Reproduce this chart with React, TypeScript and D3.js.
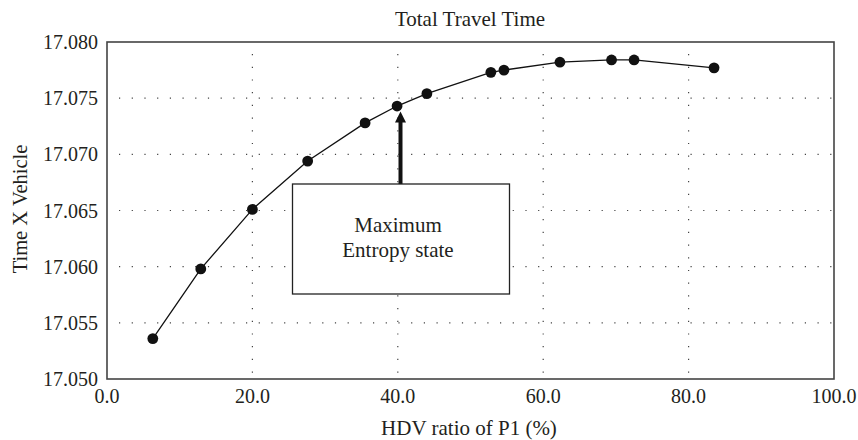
import * as d3 from "d3";
import React, {useEffect, useRef} from "react";

// values
const hdvRatio = [6.3, 12.9, 20.0, 27.6, 35.5, 39.9, 44.0, 52.8, 54.6, 62.3, 69.4, 72.5, 83.5];
const travelTime = [17.0536, 17.0598, 17.0651, 17.0694, 17.0728, 17.0743, 17.0754, 17.0773, 17.0775, 17.0782, 17.0784, 17.0784, 17.0777];
const xTicks = [0, 20, 40, 60, 80, 100];
const yTicks = [17.05, 17.055, 17.06, 17.065, 17.07, 17.075, 17.08];
const maxEntropyIndex = 5;
const boxLines = ["Maximum", "Entropy state"];

const W = 858;
const H = 440;
const FONT = "'Liberation Serif', 'Times New Roman', serif";
const INK = "#231f20";

const App = () => {
    const ref = useRef<SVGSVGElement>(null);

    useEffect(() => {
        const svg = d3.select(ref.current);
        svg.selectAll("*").remove();

        const left = 107, right = 834, top = 42, bottom = 379;

        const x = d3.scaleLinear().domain([0, 100]).range([left, right]);
        const y = d3.scaleLinear().domain([17.05, 17.08]).range([bottom, top]);

        // dotted grid
        const grid = svg.append("g")
            .attr("stroke", "#444")
            .attr("stroke-width", 1.2)
            .attr("stroke-dasharray", "1.2,11.5");
        grid.selectAll("line.h")
            .data(yTicks.slice(1, -1))
            .join("line")
            .attr("class", "h")
            .attr("x1", left + 12).attr("x2", right)
            .attr("y1", d => y(d)).attr("y2", d => y(d));
        grid.selectAll("line.v")
            .data(xTicks.slice(1, -1))
            .join("line")
            .attr("class", "v")
            .attr("x1", d => x(d)).attr("x2", d => x(d))
            .attr("y1", top + 12).attr("y2", bottom);

        // frame
        svg.append("rect")
            .attr("x", left).attr("y", top)
            .attr("width", right - left).attr("height", bottom - top)
            .attr("fill", "none")
            .attr("stroke", "#444")
            .attr("stroke-width", 1.6);

        // tick labels
        svg.append("g")
            .selectAll("text")
            .data(yTicks)
            .join("text")
            .attr("x", left - 9)
            .attr("y", d => y(d))
            .attr("dy", "0.35em")
            .attr("text-anchor", "end")
            .attr("font-size", 20)
            .attr("font-family", FONT)
            .attr("fill", INK)
            .text(d => d3.format(".3f")(d));

        svg.append("g")
            .selectAll("text")
            .data(xTicks)
            .join("text")
            .attr("x", d => x(d))
            .attr("y", 403)
            .attr("text-anchor", "middle")
            .attr("font-size", 20)
            .attr("font-family", FONT)
            .attr("fill", INK)
            .text(d => d3.format(".1f")(d));

        // titles
        svg.append("text")
            .attr("x", 470).attr("y", 26)
            .attr("text-anchor", "middle")
            .attr("font-size", 21)
            .attr("font-family", FONT)
            .attr("fill", INK)
            .text("Total Travel Time");

        svg.append("text")
            .attr("x", 469).attr("y", 435)
            .attr("text-anchor", "middle")
            .attr("font-size", 21)
            .attr("font-family", FONT)
            .attr("fill", INK)
            .text("HDV ratio of P1 (%)");

        svg.append("text")
            .attr("transform", "translate(27,209) rotate(-90)")
            .attr("text-anchor", "middle")
            .attr("font-size", 20.5)
            .attr("font-family", FONT)
            .attr("fill", INK)
            .text("Time X Vehicle");

        // series
        const pts = hdvRatio.map((v, i) => [v, travelTime[i]] as [number, number]);
        const line = d3.line<[number, number]>().x(d => x(d[0])).y(d => y(d[1]));
        svg.append("path")
            .attr("d", line(pts))
            .attr("fill", "none")
            .attr("stroke", "#111")
            .attr("stroke-width", 1.3);
        svg.append("g")
            .selectAll("circle")
            .data(pts)
            .join("circle")
            .attr("cx", d => x(d[0]))
            .attr("cy", d => y(d[1]))
            .attr("r", 5.4)
            .attr("fill", "#111");

        // annotation box + arrow
        const ax = 400.5;
        const tipY = y(travelTime[maxEntropyIndex]) + 5.5;
        const boxTop = 184, boxBottom = 294, boxLeft = 292.5, boxRight = 509.5;
        svg.append("line")
            .attr("x1", ax).attr("x2", ax)
            .attr("y1", boxTop).attr("y2", tipY + 9)
            .attr("stroke", "#111")
            .attr("stroke-width", 4);
        svg.append("path")
            .attr("d", d3.line()([[ax, tipY], [ax - 5.5, tipY + 11], [ax + 5.5, tipY + 11]]) + "Z")
            .attr("fill", "#111");

        svg.append("rect")
            .attr("x", boxLeft).attr("y", boxTop)
            .attr("width", boxRight - boxLeft).attr("height", boxBottom - boxTop)
            .attr("fill", "white")
            .attr("stroke", "#222")
            .attr("stroke-width", 1.3);
        svg.append("g")
            .selectAll("text")
            .data(boxLines)
            .join("text")
            .attr("x", 398)
            .attr("y", (d, i) => 232 + i * 25)
            .attr("text-anchor", "middle")
            .attr("font-size", 21)
            .attr("font-family", FONT)
            .attr("fill", INK)
            .text(d => d);
    }, []);

    return (
        <svg ref={ref} width={W} height={H}
             style={{position: "absolute", left: 0, top: 0, background: "white"}}/>
    );
};

export default App;
